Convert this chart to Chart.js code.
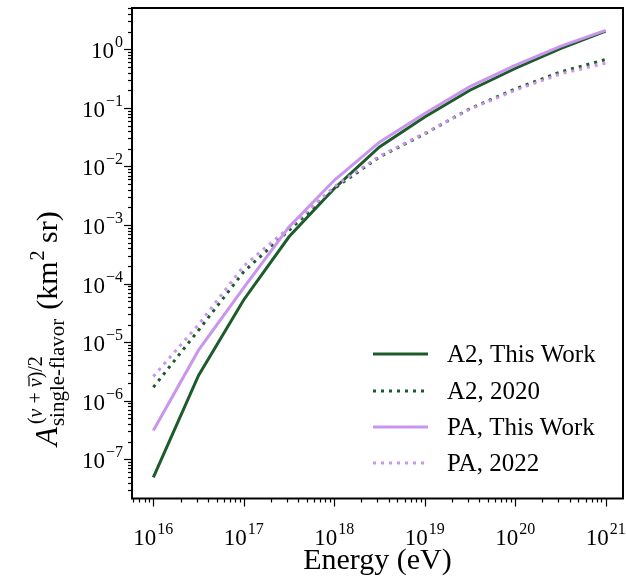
<!DOCTYPE html>
<html>
<head>
<meta charset="utf-8">
<script src="https://cdn.jsdelivr.net/npm/chart.js@4/dist/chart.umd.min.js"></script>
<style>
  html, body { margin: 0; padding: 0; background: #fff; }
  canvas { display: block; }
</style>
</head>
<body>
<canvas id="effArea" width="626" height="580"></canvas>
<script>
// energies in eV, half-decade steps
const energies = [1e16, 3.16e16, 1e17, 3.16e17, 1e18, 3.16e18, 1e19, 3.16e19, 1e20, 3.16e20, 1e21];

// single-flavor effective area (km^2 sr)
const a2ThisWork = [4.9e-8, 2.7e-6, 5.3e-5, 6.3e-4, 4.2e-3, 0.0215, 0.070, 0.20, 0.47, 1.03, 2.05];
const a2Old      = [1.7e-6, 1.6e-5, 1.6e-4, 8.1e-4, 4.2e-3, 0.0145, 0.036, 0.097, 0.21, 0.41, 0.67];
const paThisWork = [3.1e-7, 7.3e-6, 8.5e-5, 9.3e-4, 5.8e-3, 0.026, 0.080, 0.23, 0.53, 1.12, 2.1];
const paOld      = [2.6e-6, 2.0e-5, 2.0e-4, 9.0e-4, 4.5e-3, 0.015, 0.037, 0.095, 0.20, 0.38, 0.58];

const seriesLabels = ['A2, This Work', 'A2, 2020', 'PA, This Work', 'PA, 2022'];
const xDecades = [16, 17, 18, 19, 20, 21];
const yDecades = [0, -1, -2, -3, -4, -5, -6, -7];

const green = '#1d5b2b';
const purple = '#c995ee';
const serif = '"Liberation Serif", "Times New Roman", serif';
const dots = [3, 5];

function pts(ys) {
    return energies.map((e, i) => ({ x: e, y: ys[i] }));
}

function line(label, ys, color, dashed, order) {
    return {
        label: label,
        data: pts(ys),
        borderColor: color,
        backgroundColor: color,
        borderWidth: 3,
        borderDash: dashed ? dots : [],
        borderCapStyle: 'butt',
        pointRadius: 0,
        tension: 0,
        fill: false,
        order: order
    };
}

// minor + major tick values for a log axis
function logTicks(lo, hi) {
    const out = [];
    for (let d = Math.floor(lo) - 1; d <= Math.ceil(hi); d++) {
        for (let m = 1; m < 10; m++) {
            const v = m * Math.pow(10, d);
            const lv = Math.log10(v);
            if (lv >= lo && lv <= hi) out.push({ v: v, major: m === 1, exp: d });
        }
    }
    return out;
}

function sup(ctx, base, exp, x, y, align) {
    const bigFont = '23px ' + serif;
    const smallFont = '16px ' + serif;
    const expTxt = String(exp).replace('-', '\u2212');
    ctx.font = bigFont;
    const wb = ctx.measureText(base).width;
    ctx.font = smallFont;
    const we = ctx.measureText(expTxt).width;
    let x0 = align === 'center' ? x - (wb + we + 1) / 2 : x - (wb + we + 1);
    ctx.font = bigFont;
    ctx.fillText(base, x0, y);
    ctx.font = smallFont;
    ctx.fillText(expTxt, x0 + wb + 1, y - 11);
}

const axesPlugin = {
    id: 'axesPlugin',
    afterDraw(chart) {
        const ctx = chart.ctx;
        const a = chart.chartArea;
        const xs = chart.scales.x, ys = chart.scales.y;
        ctx.save();
        ctx.fillStyle = '#000';
        ctx.strokeStyle = '#000';

        // ticks
        ctx.lineWidth = 1.2;
        logTicks(Math.log10(xs.min), Math.log10(xs.max)).forEach(t => {
            const px = Math.round(xs.getPixelForValue(t.v)) + 0.5;
            const len = t.major ? 8 : 4;
            ctx.beginPath();
            ctx.moveTo(px, a.bottom);
            ctx.lineTo(px, a.bottom + len);
            ctx.stroke();
        });
        logTicks(Math.log10(ys.min), Math.log10(ys.max)).forEach(t => {
            const py = Math.round(ys.getPixelForValue(t.v)) + 0.5;
            const len = t.major ? 8 : 4;
            ctx.beginPath();
            ctx.moveTo(a.left, py);
            ctx.lineTo(a.left - len, py);
            ctx.stroke();
        });

        // frame
        ctx.lineWidth = 2;
        ctx.strokeRect(a.left, a.top, a.right - a.left, a.bottom - a.top);

        // tick labels
        ctx.textBaseline = 'alphabetic';
        ctx.textAlign = 'left';
        xDecades.forEach(d => {
            sup(ctx, '10', d, xs.getPixelForValue(Math.pow(10, d)), 545, 'center');
        });
        yDecades.forEach(d => {
            sup(ctx, '10', d, 123, ys.getPixelForValue(Math.pow(10, d)) + 9, 'right');
        });

        // x title
        ctx.font = '30px ' + serif;
        ctx.textAlign = 'center';
        ctx.fillText('Energy (eV)', (a.left + a.right) / 2, 569);

        // y title, rotated
        ctx.save();
        ctx.translate(57, 446);
        ctx.rotate(-Math.PI / 2);
        ctx.textAlign = 'left';
        let x = 0;
        ctx.font = 'italic 31px ' + serif;
        ctx.fillText('A', x, 0);
        x += ctx.measureText('A').width + 1;
        // superscript (nu + nubar)/2
        let sx = x + 2;
        const supY = -15;
        ctx.font = '20px ' + serif;
        ctx.fillText('(', sx, supY); sx += ctx.measureText('(').width;
        ctx.font = 'italic 20px ' + serif;
        ctx.fillText('\u03bd', sx, supY); sx += ctx.measureText('\u03bd').width;
        ctx.font = '20px ' + serif;
        ctx.fillText(' + ', sx, supY); sx += ctx.measureText(' + ').width;
        ctx.font = 'italic 20px ' + serif;
        const wnu = ctx.measureText('\u03bd').width;
        ctx.fillText('\u03bd', sx, supY);
        ctx.lineWidth = 1.2;
        ctx.beginPath();
        ctx.moveTo(sx + 1, supY - 13);
        ctx.lineTo(sx + wnu + 1, supY - 13);
        ctx.stroke();
        sx += wnu;
        ctx.font = '20px ' + serif;
        ctx.fillText(')/2', sx, supY); sx += ctx.measureText(')/2').width;
        // subscript
        ctx.font = '21px ' + serif;
        ctx.fillText('single-flavor', x, 7);
        const subEnd = x + ctx.measureText('single-flavor').width;
        x = Math.max(sx, subEnd) + 9;
        ctx.font = '30px ' + serif;
        ctx.fillText('(km', x, 0); x += ctx.measureText('(km').width + 1;
        ctx.font = '20px ' + serif;
        ctx.fillText('2', x, -13); x += ctx.measureText('2').width;
        ctx.font = '30px ' + serif;
        ctx.fillText(' sr)', x, 0);
        ctx.restore();

        // legend
        const rows = [354, 391, 427, 463];
        chart.data.datasets.forEach((ds, i) => {
            const y = rows[i];
            ctx.strokeStyle = ds.borderColor;
            ctx.lineWidth = 3;
            ctx.lineCap = 'butt';
            ctx.setLineDash(ds.borderDash);
            ctx.beginPath();
            ctx.moveTo(373, y);
            ctx.lineTo(428, y);
            ctx.stroke();
            ctx.setLineDash([]);
            ctx.fillStyle = '#000';
            ctx.font = '25px ' + serif;
            ctx.textAlign = 'left';
            ctx.textBaseline = 'middle';
            ctx.fillText(ds.label, 447, y + 1);
        });
        ctx.restore();
    }
};

new Chart(
    document.getElementById('effArea'),
    {
        type: 'line',
        data: {
            datasets: [
                line(seriesLabels[0], a2ThisWork, green, false, 4),
                line(seriesLabels[1], a2Old, green, true, 3),
                line(seriesLabels[2], paThisWork, purple, false, 2),
                line(seriesLabels[3], paOld, purple, true, 1)
            ]
        },
        options: {
            responsive: false,
            devicePixelRatio: 1,
            animation: false,
            layout: { padding: { top: 8, right: 3, left: 0, bottom: 0 } },
            plugins: {
                legend: { display: false },
                tooltip: { enabled: false }
            },
            scales: {
                x: {
                    type: 'logarithmic',
                    position: 'bottom',
                    min: Math.pow(10, 15.764),
                    max: Math.pow(10, 21.192),
                    ticks: { display: false },
                    grid: { display: false },
                    border: { display: false },
                    afterFit: s => { s.height = 81.5; }
                },
                y: {
                    type: 'logarithmic',
                    position: 'left',
                    min: Math.pow(10, -7.669),
                    max: Math.pow(10, 0.705),
                    ticks: { display: false },
                    grid: { display: false },
                    border: { display: false },
                    afterFit: s => { s.width = 132; }
                }
            }
        },
        plugins: [axesPlugin]
    }
);
</script>
</body>
</html>
